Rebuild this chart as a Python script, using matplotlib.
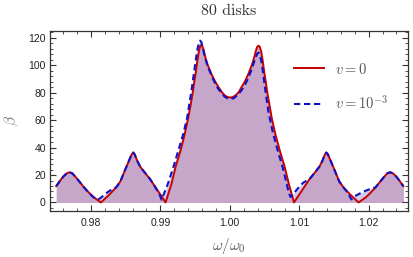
import matplotlib
matplotlib.use('Agg')
import matplotlib.pyplot as plt
from matplotlib.ticker import MultipleLocator, FormatStrFormatter

plt.rcParams['mathtext.fontset'] ='cm'

# omega / omega0 and beta
# v = 0
omega_v0 =[0.9750, 0.9755, 0.9760, 0.9765, 0.9769, 0.9773, 0.9778, 0.9784, 0.9790, 0.9797,
           0.9804, 0.98144, 0.98260, 0.98363, 0.98423, 0.98488, 0.98549, 0.98586, 0.98609, 0.98630,
           0.98665, 0.98710, 0.98753, 0.98800, 0.98849, 0.98900, 0.98945, 0.99010, 0.99075, 0.99161,
           0.99219, 0.99291, 0.99352, 0.99400, 0.99432, 0.99463, 0.99489, 0.99511, 0.99532, 0.99554,
           0.99571, 0.99586, 0.99603, 0.99622, 0.99647, 0.99683, 0.99737, 0.99791, 0.99832, 0.99885,
           0.99928, 0.99971, 1.00007, 1.00043, 1.00086, 1.00130, 1.00173, 1.00216, 1.00266, 1.00317,
           1.00353, 1.00378, 1.00397, 1.00414, 1.00432, 1.00453, 1.00475, 1.00496, 1.00518, 1.00544,
           1.00576, 1.00604, 1.00655, 1.00720, 1.00791, 1.00849, 1.00925, 1.00990, 1.01055, 1.01100,
           1.01151, 1.01200, 1.01247, 1.01290, 1.01335, 1.01370, 1.01391, 1.01414, 1.01451, 1.01512,
           1.01577, 1.01637, 1.01740, 1.01856, 1.0196, 1.0203, 1.0210, 1.0216, 1.0222, 1.0227,
           1.0231, 1.0235, 1.0240, 1.0245, 1.0250]
beta_v0 =[11.9, 15.5, 18.8, 21.2, 22.0, 21.3, 18.5, 14.8, 11.0, 7.2,
          3.8, 0.0, 5.5, 11.0, 15.3, 23.3, 30.6, 35.0, 36.4, 35.0,
          30.5, 26.0, 23.2, 20.2, 17.2, 13.3, 9.9, 5.0, 0.0, 13.8,
          25.9, 37.9, 50.1, 61.5, 70.0, 79.0, 88.0, 95.0, 103.0, 110.0,
          113.6, 114.6, 114.0, 111.5, 106.0, 100.0, 93.5, 88.0, 84.5, 80.5,
          78.0, 76.8, 76.5, 76.8, 78.2, 80.5, 84.5, 88.0, 93.5, 100.0,
          106.0, 111.0, 113.6, 114.3, 113.5, 110.0, 103.0, 95.0, 88.0, 79.0,
          70.0, 61.5, 50.1, 37.9, 25.9, 13.8, 0.0, 5.0, 9.9, 13.3,
          17.2, 20.2, 23.2, 26.0, 30.5, 35.0, 36.4, 35.0, 30.6, 23.3,
          15.3, 11.0, 5.5, 0.0, 3.8, 7.2, 11.0, 14.8, 18.5, 21.3,
          22.0, 21.2, 18.8, 15.5, 11.9]

# v = 1e-3
omega_v3 =[0.9750, 0.9755, 0.9760, 0.9765, 0.9769, 0.9773, 0.9778, 0.9784, 0.9790, 0.9797,
           0.9803, 0.98094, 0.9813, 0.9818, 0.9824, 0.9830, 0.98363, 0.98423, 0.98488, 0.98549,
           0.98586, 0.98609, 0.98630, 0.98665, 0.98710, 0.98753, 0.98800, 0.98849, 0.98900, 0.98945,
           0.98990, 0.99017, 0.99104, 0.99184, 0.99256, 0.99328, 0.99386, 0.99424, 0.99455, 0.99485,
           0.99510, 0.99535, 0.99557, 0.99572, 0.99590, 0.99612, 0.99640, 0.99680, 0.99737, 0.99791,
           0.99832, 0.99885, 0.99928, 0.99971, 1.00014, 1.00057, 1.00100, 1.00150, 1.00200, 1.00250,
           1.00300, 1.00340, 1.00375, 1.00400, 1.00415, 1.00432, 1.00452, 1.00475, 1.00500, 1.00525,
           1.00560, 1.00625, 1.00690, 1.00760, 1.00818, 1.00850, 1.00875, 1.00910, 1.00960, 1.01010,
           1.01060, 1.01110, 1.01151, 1.01200, 1.01247, 1.01290, 1.01335, 1.01370, 1.01391, 1.01414,
           1.01451, 1.01512, 1.01577, 1.01637, 1.01700, 1.01751, 1.01800, 1.01860, 1.01918, 1.01980,
           1.0204, 1.0210, 1.0216, 1.0222, 1.0227, 1.0231, 1.0235, 1.0240, 1.0245, 1.0250]
beta_v3 =[11.9, 15.5, 18.8, 21.2, 22.0, 21.3, 18.5, 14.8, 11.0, 7.0,
          4.0, 2.0, 3.0, 5.0, 7.5, 9.5, 11.0, 15.3, 23.3, 30.6,
          35.0, 36.4, 35.0, 30.5, 26.0, 23.2, 20.2, 17.2, 13.3, 9.5,
          5.5, 2.0, 13.0, 25.2, 37.4, 49.6, 61.8, 74.0, 84.0, 95.0,
          104.0, 112.0, 116.8, 118.0, 117.0, 112.5, 106.0, 99.5, 92.5, 86.5,
          83.0, 79.5, 77.0, 75.8, 75.5, 76.0, 77.8, 80.5, 84.0, 89.0,
          95.0, 101.0, 106.0, 108.8, 109.2, 108.0, 103.5, 96.0, 86.0, 77.0,
          65.0, 50.0, 37.9, 25.9, 13.8, 7.0, 4.0, 6.0, 9.0, 12.0,
          14.5, 16.0, 17.2, 20.2, 23.2, 26.0, 30.5, 35.0, 36.4, 35.0,
          30.6, 23.3, 15.3, 11.0, 7.0, 2.2, 4.5, 6.2, 7.7, 9.0,
          10.2, 11.0, 14.8, 18.5, 21.3, 22.0, 21.2, 18.8, 15.5, 11.9]

labels =[r'$v = 0$', r'$v = 10^{-3}$']
xticks =[0.98, 0.99, 1.00, 1.01, 1.02]
yticks =[0, 20, 40, 60, 80, 100, 120]

fig =plt.figure(figsize=(4.14, 2.57), dpi=100)
ax =fig.add_axes([0.1208, 0.1802, 0.8635, 0.6992])

# fills: blue under, red on top
ax.fill_between(omega_v3, 0, beta_v3, color='#cfcdee', lw=0)
ax.fill_between(omega_v0, 0, beta_v0, color='#c6a6c9', lw=0)

ax.plot(omega_v0, beta_v0, color='#c80000', lw=1.4, label=labels[0])
ln, =ax.plot(omega_v3, beta_v3, color='#1010c8', lw=1.5, label=labels[1])
ln.set_dashes((3, 1.8))

ax.set_xlim(0.9741, 1.0256)
ax.set_ylim(-6, 125)
ax.set_xticks(xticks)
ax.set_yticks(yticks)
ax.xaxis.set_major_formatter(FormatStrFormatter('%.2f'))
ax.xaxis.set_minor_locator(MultipleLocator(0.002))
ax.yaxis.set_minor_locator(MultipleLocator(4))
ax.tick_params(which='both', direction='in', top=True, right=True,
               colors='#333333', labelsize=7.5, labelcolor='#222222')
ax.tick_params(which='major', length=4, width=0.8)
ax.tick_params(which='minor', length=2, width=0.6)
ax.tick_params(axis='x', pad=5)
ax.tick_params(axis='y', pad=3)
for sp in ax.spines.values():
    sp.set_color('#333333')
    sp.set_linewidth(0.9)
for lbl in ax.get_xticklabels() + ax.get_yticklabels():
    lbl.set_fontfamily('Liberation Sans')

ax.set_xlabel(r'$\omega/\omega_0$', fontsize=11, color='#555555')
ax.xaxis.set_label_coords(0.5, -0.14)
ax.set_ylabel(r'$\beta$', fontsize=11, color='#777777')
ax.yaxis.set_label_coords(-0.08, 0.5)

fig.text(0.5525, 0.957, '80 disks', ha='center', va='center',
         fontsize=11.5, family='cmr10', color='#333333')

ax.legend(loc='center left', bbox_to_anchor=(0.645, 0.69), frameon=False,
          fontsize=10.5, handlelength=2.1, handletextpad=0.7, labelspacing=1.2,
          labelcolor='#555555')

fig.savefig('out.png', dpi=100)
